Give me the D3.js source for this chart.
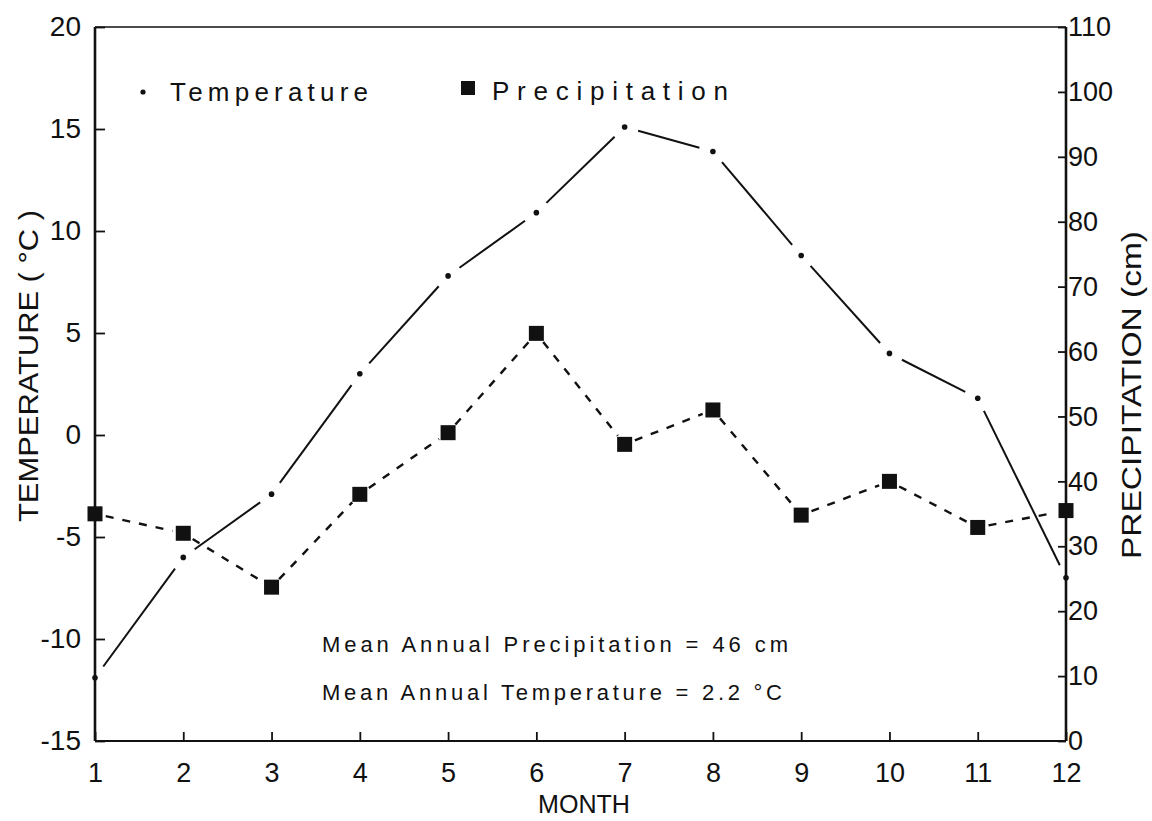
<!DOCTYPE html>
<html>
<head>
<meta charset="utf-8">
<script src="https://cdn.jsdelivr.net/npm/d3@7"></script>
<style>
  html, body { margin: 0; padding: 0; background: #fff; }
  svg { display: block; }
  text { font-family: 'Liberation Sans', 'DejaVu Sans', sans-serif; fill: #111; }
</style>
</head>
<body>
<svg id="chart" width="1152" height="821"></svg>
<script>
// Monthly climate data
const months = [1, 2, 3, 4, 5, 6, 7, 8, 9, 10, 11, 12];
const temperature = [-11.9, -6.0, -2.9, 3.0, 7.8, 10.9, 15.1, 13.9, 8.8, 4.0, 1.8, -7.0];   // °C
const precipitation = [35.0, 32.0, 23.7, 38.0, 47.5, 62.8, 45.7, 51.0, 34.8, 40.0, 32.9, 35.5]; // cm

const tempTicks = [-15, -10, -5, 0, 5, 10, 15, 20];
const precipTicks = [0, 10, 20, 30, 40, 50, 60, 70, 80, 90, 100, 110];
const monthTicks = months;

const legendLabels = ["Temperature", "Precipitation"];
const noteLines = ["Mean Annual Precipitation = 46 cm", "Mean Annual Temperature = 2.2 °C"];

const svg = d3.select("#chart");
const plot = { left: 95, right: 1066, top: 27, bottom: 741 };

const x = d3.scaleLinear().domain([1, 12]).range([plot.left, plot.right]);
const yT = d3.scaleLinear().domain([-15, 20]).range([plot.bottom, plot.top]);
const yP = d3.scaleLinear().domain([0, 110]).range([plot.bottom, plot.top]);

// Plain hyphen-minus labels
const plain = d => String(d);

// Frame
const frame = svg.append("g").attr("fill", "none").attr("stroke", "#111");
frame.append("line").attr("x1", plot.left).attr("x2", plot.right).attr("y1", plot.top).attr("y2", plot.top).attr("stroke-width", 1.6);
frame.append("line").attr("x1", plot.left).attr("x2", plot.right).attr("y1", plot.bottom).attr("y2", plot.bottom).attr("stroke-width", 2);
frame.append("line").attr("x1", plot.left).attr("x2", plot.left).attr("y1", plot.top).attr("y2", plot.bottom).attr("stroke-width", 2.6);
frame.append("line").attr("x1", plot.right).attr("x2", plot.right).attr("y1", plot.top).attr("y2", plot.bottom).attr("stroke-width", 2.6);

function styleAxis(g, fs) {
  g.select(".domain").remove();
  g.selectAll(".tick line").attr("stroke", "#111").attr("stroke-width", 1.8);
  g.selectAll(".tick text").attr("font-size", fs).attr("fill", "#111")
    .style("font-family", "'Liberation Sans', sans-serif");
}

// Left axis: temperature
svg.append("g")
  .attr("transform", `translate(${plot.left},0)`)
  .call(d3.axisLeft(yT).tickValues(tempTicks).tickSizeInner(-10).tickSizeOuter(0).tickPadding(14).tickFormat(plain))
  .call(g => styleAxis(g, 28));

// Right axis: precipitation
svg.append("g")
  .attr("transform", `translate(${plot.right},0)`)
  .call(d3.axisRight(yP).tickValues(precipTicks).tickSizeInner(-8).tickSizeOuter(0).tickPadding(2).tickFormat(plain))
  .call(g => styleAxis(g, 27));

// Bottom axis: months
svg.append("g")
  .attr("transform", `translate(0,${plot.bottom})`)
  .call(d3.axisBottom(x).tickValues(monthTicks).tickSizeInner(-9).tickSizeOuter(0).tickPadding(22).tickFormat(plain))
  .call(g => styleAxis(g, 27));

// Axis titles
svg.append("text")
  .attr("transform", "translate(38,366) rotate(-90)")
  .attr("text-anchor", "middle")
  .attr("font-size", 27)
  .attr("textLength", 312).attr("lengthAdjust", "spacingAndGlyphs")
  .text("TEMPERATURE ( °C )");

svg.append("text")
  .attr("transform", "translate(1141,395) rotate(-90)")
  .attr("text-anchor", "middle")
  .attr("font-size", 27)
  .attr("textLength", 328).attr("lengthAdjust", "spacingAndGlyphs")
  .text("PRECIPITATION (cm)");

svg.append("text")
  .attr("x", 584).attr("y", 813)
  .attr("text-anchor", "middle")
  .attr("font-size", 25)
  .attr("textLength", 92).attr("lengthAdjust", "spacingAndGlyphs")
  .text("MONTH");

// Segments between consecutive points, trimmed so that they stop short of the markers
function trimmedSegments(pts, gap) {
  const segs = [];
  for (let i = 0; i < pts.length - 1; i++) {
    const [x0, y0] = pts[i], [x1, y1] = pts[i + 1];
    const d = Math.hypot(x1 - x0, y1 - y0);
    const ux = (x1 - x0) / d, uy = (y1 - y0) / d;
    segs.push([x0 + ux * gap, y0 + uy * gap, x1 - ux * gap, y1 - uy * gap]);
  }
  return segs;
}

const tempPts = months.map((m, i) => [x(m), yT(temperature[i])]);
const precPts = months.map((m, i) => [x(m), yP(precipitation[i])]);

// Temperature: solid line with small dots
svg.append("g").selectAll("line")
  .data(trimmedSegments(tempPts, 14))
  .join("line")
  .attr("x1", d => d[0]).attr("y1", d => d[1]).attr("x2", d => d[2]).attr("y2", d => d[3])
  .attr("stroke", "#111").attr("stroke-width", 2);

svg.append("g").selectAll("circle")
  .data(months)
  .join("circle")
  .attr("cx", (d, i) => x(d)).attr("cy", (d, i) => yT(temperature[i]))
  .attr("r", 2.8).attr("fill", "#111");

// Precipitation: dashed line with filled squares
svg.append("g").selectAll("line")
  .data(trimmedSegments(precPts, 11))
  .join("line")
  .attr("x1", d => d[0]).attr("y1", d => d[1]).attr("x2", d => d[2]).attr("y2", d => d[3])
  .attr("stroke", "#111").attr("stroke-width", 2.4).attr("stroke-dasharray", "8,9");

const sq = 15;
svg.append("g").selectAll("rect")
  .data(months)
  .join("rect")
  .attr("x", (d, i) => x(d) - sq / 2).attr("y", (d, i) => yP(precipitation[i]) - sq / 2)
  .attr("width", sq).attr("height", sq).attr("fill", "#111");

// Legend
const legend = svg.append("g");
legend.append("circle").attr("cx", 143).attr("cy", 92).attr("r", 2.6).attr("fill", "#111");
legend.append("text").attr("x", 170).attr("y", 101).attr("font-size", 26)
  .attr("textLength", 198).attr("lengthAdjust", "spacing").text(legendLabels[0]);
legend.append("rect").attr("x", 461).attr("y", 81).attr("width", 14).attr("height", 14).attr("fill", "#111");
legend.append("text").attr("x", 492).attr("y", 100).attr("font-size", 26)
  .attr("textLength", 236).attr("lengthAdjust", "spacing").text(legendLabels[1]);

// Summary notes
svg.append("text").attr("x", 322).attr("y", 652).attr("font-size", 22)
  .attr("textLength", 466).attr("lengthAdjust", "spacing").text(noteLines[0]);
svg.append("text").attr("x", 322).attr("y", 700).attr("font-size", 22)
  .attr("textLength", 460).attr("lengthAdjust", "spacing").text(noteLines[1]);
</script>
</body>
</html>
